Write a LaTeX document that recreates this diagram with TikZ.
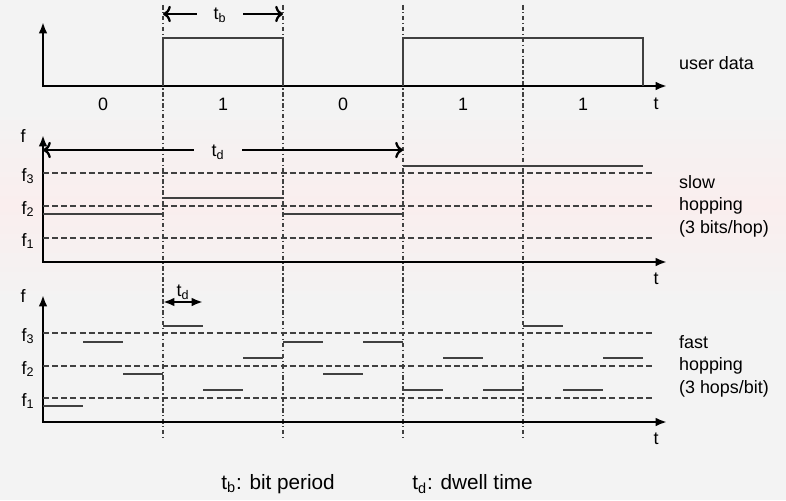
\documentclass[tikz,border=0pt]{standalone}
\usepackage{fontspec}
\setmainfont{Liberation Sans}
\usetikzlibrary{arrows.meta, positioning, calc}
\definecolor{bggray}{RGB}{243,243,243}
\definecolor{bgpink}{RGB}{250,238,238}
\definecolor{siggray}{RGB}{64,64,64}

\tikzset{
  axis/.style={{Latex[length=6.5pt,width=5pt]}-{Latex[length=6.5pt,width=5pt]}, line width=1.3pt},
  span/.style={{Latex[length=6.5pt,width=5pt]}-{Latex[length=6.5pt,width=5pt]}, line width=1.3pt},
  sig/.style={siggray, line width=0.95pt},
  level/.style={siggray, line width=0.75pt, dash pattern=on 3.4pt off 1.8pt},
  bitline/.style={siggray, line width=0.75pt, dash pattern=on 2.6pt off 1.4pt on 0.8pt off 1.4pt},
  lbl/.style={font=\fontsize{10.2}{12.8}\selectfont, inner sep=1pt},
  legendtxt/.style={font=\fontsize{11.8}{14}\selectfont, inner sep=0pt, anchor=west},
}

\begin{document}
\begin{tikzpicture}[x=0.02cm, y=-0.02cm]
    % Background
    \useasboundingbox (0,0) rectangle (786,500);
    \fill[bggray] (0,0) rectangle (786,500);
    \shade[top color=bggray, bottom color=bggray, middle color=bgpink] (0,110) rectangle (786,300);

    % Bit boundaries
    \foreach \x in {163,283,403,523}
        \draw[bitline] (\x,5) -- (\x,437);

    % User data
    \draw[axis] (43,22) -- (43,86) -- (667,86);
    \draw[sig] (163,86) -- (163,38) -- (283,38) -- (283,86);
    \draw[sig] (403,86) -- (403,38) -- (643,38) -- (643,86);
    \foreach \b [count=\i] in {0,1,0,1,1}
        \node[lbl] (bit\i) at ({120*\i-17},104) {\b};
    \node[lbl] (tdata) at (656,104) {t};
    \node[lbl, anchor=west] (userdata) at (677,63) {user data};
    \node[lbl, inner xsep=9pt] (tb) at (220,15) {t\textsubscript{b}};
    \draw[span, <-] (163,14) -- (tb.west |- 0,14);
    \draw[span, <-] (283,14) -- (tb.east |- 0,14);

    % Slow hopping
    \draw[axis] (43,135) -- (43,262) -- (667,262);
    \node[lbl] (fslow) at (23,136) {f};
    \node[lbl] (tslow) at (656,279) {t};
    \foreach \y/\n in {173/3,206/2,238/1} {
        \draw[level] (43,\y) -- (652,\y);
        \node[lbl] (fs\n) at (28,\y+3) {f\textsubscript{\n}};
    }
    \draw[sig] (43,214) -- (163,214);
    \draw[sig] (163,198) -- (283,198);
    \draw[sig] (283,214) -- (403,214);
    \draw[sig] (403,166) -- (643,166);
    \node[lbl, inner xsep=10pt] (tdslow) at (218,152) {t\textsubscript{d}};
    \draw[span, ->] (tdslow.west |- 0,150) -- (43,150);
    \draw[span, ->] (tdslow.east |- 0,150) -- (403,150);
    \node[lbl, anchor=west, align=left] (slow) at (677,206) {slow\\hopping\\(3 bits/hop)};

    % Fast hopping
    \draw[axis] (43,295) -- (43,422) -- (667,422);
    \node[lbl] (ffast) at (23,296) {f};
    \node[lbl] (tfast) at (656,439) {t};
    \foreach \y/\n in {333/3,366/2,398/1} {
        \draw[level] (43,\y) -- (652,\y);
        \node[lbl] (ff\n) at (28,\y+3) {f\textsubscript{\n}};
    }
    \foreach \y [count=\i from 0] in {406,342,374,326,390,358,342,374,342,390,358,390,326,390,358}
        \draw[sig] ({43+40*\i},\y) -- ({83+40*\i},\y);
    \coordinate (hopstart) at (163,302);
    \coordinate (hopend) at (203,302);
    \coordinate (hopmid) at ($(hopstart)!0.5!(hopend)$);
    \draw[span] (hopstart) -- (hopend);
    \node[lbl, above=0pt of hopmid] (tdfast) {t\textsubscript{d}};
    \node[lbl, anchor=west, align=left] (fast) at (677,366) {fast\\hopping\\(3 hops/bit)};

    % Legend
    \node[legendtxt] (tbcap) at (221,484) {t\textsubscript{b}: bit period};
    \node[legendtxt] (tdcap) at (412,484) {t\textsubscript{d}: dwell time};
\end{tikzpicture}
\end{document}
